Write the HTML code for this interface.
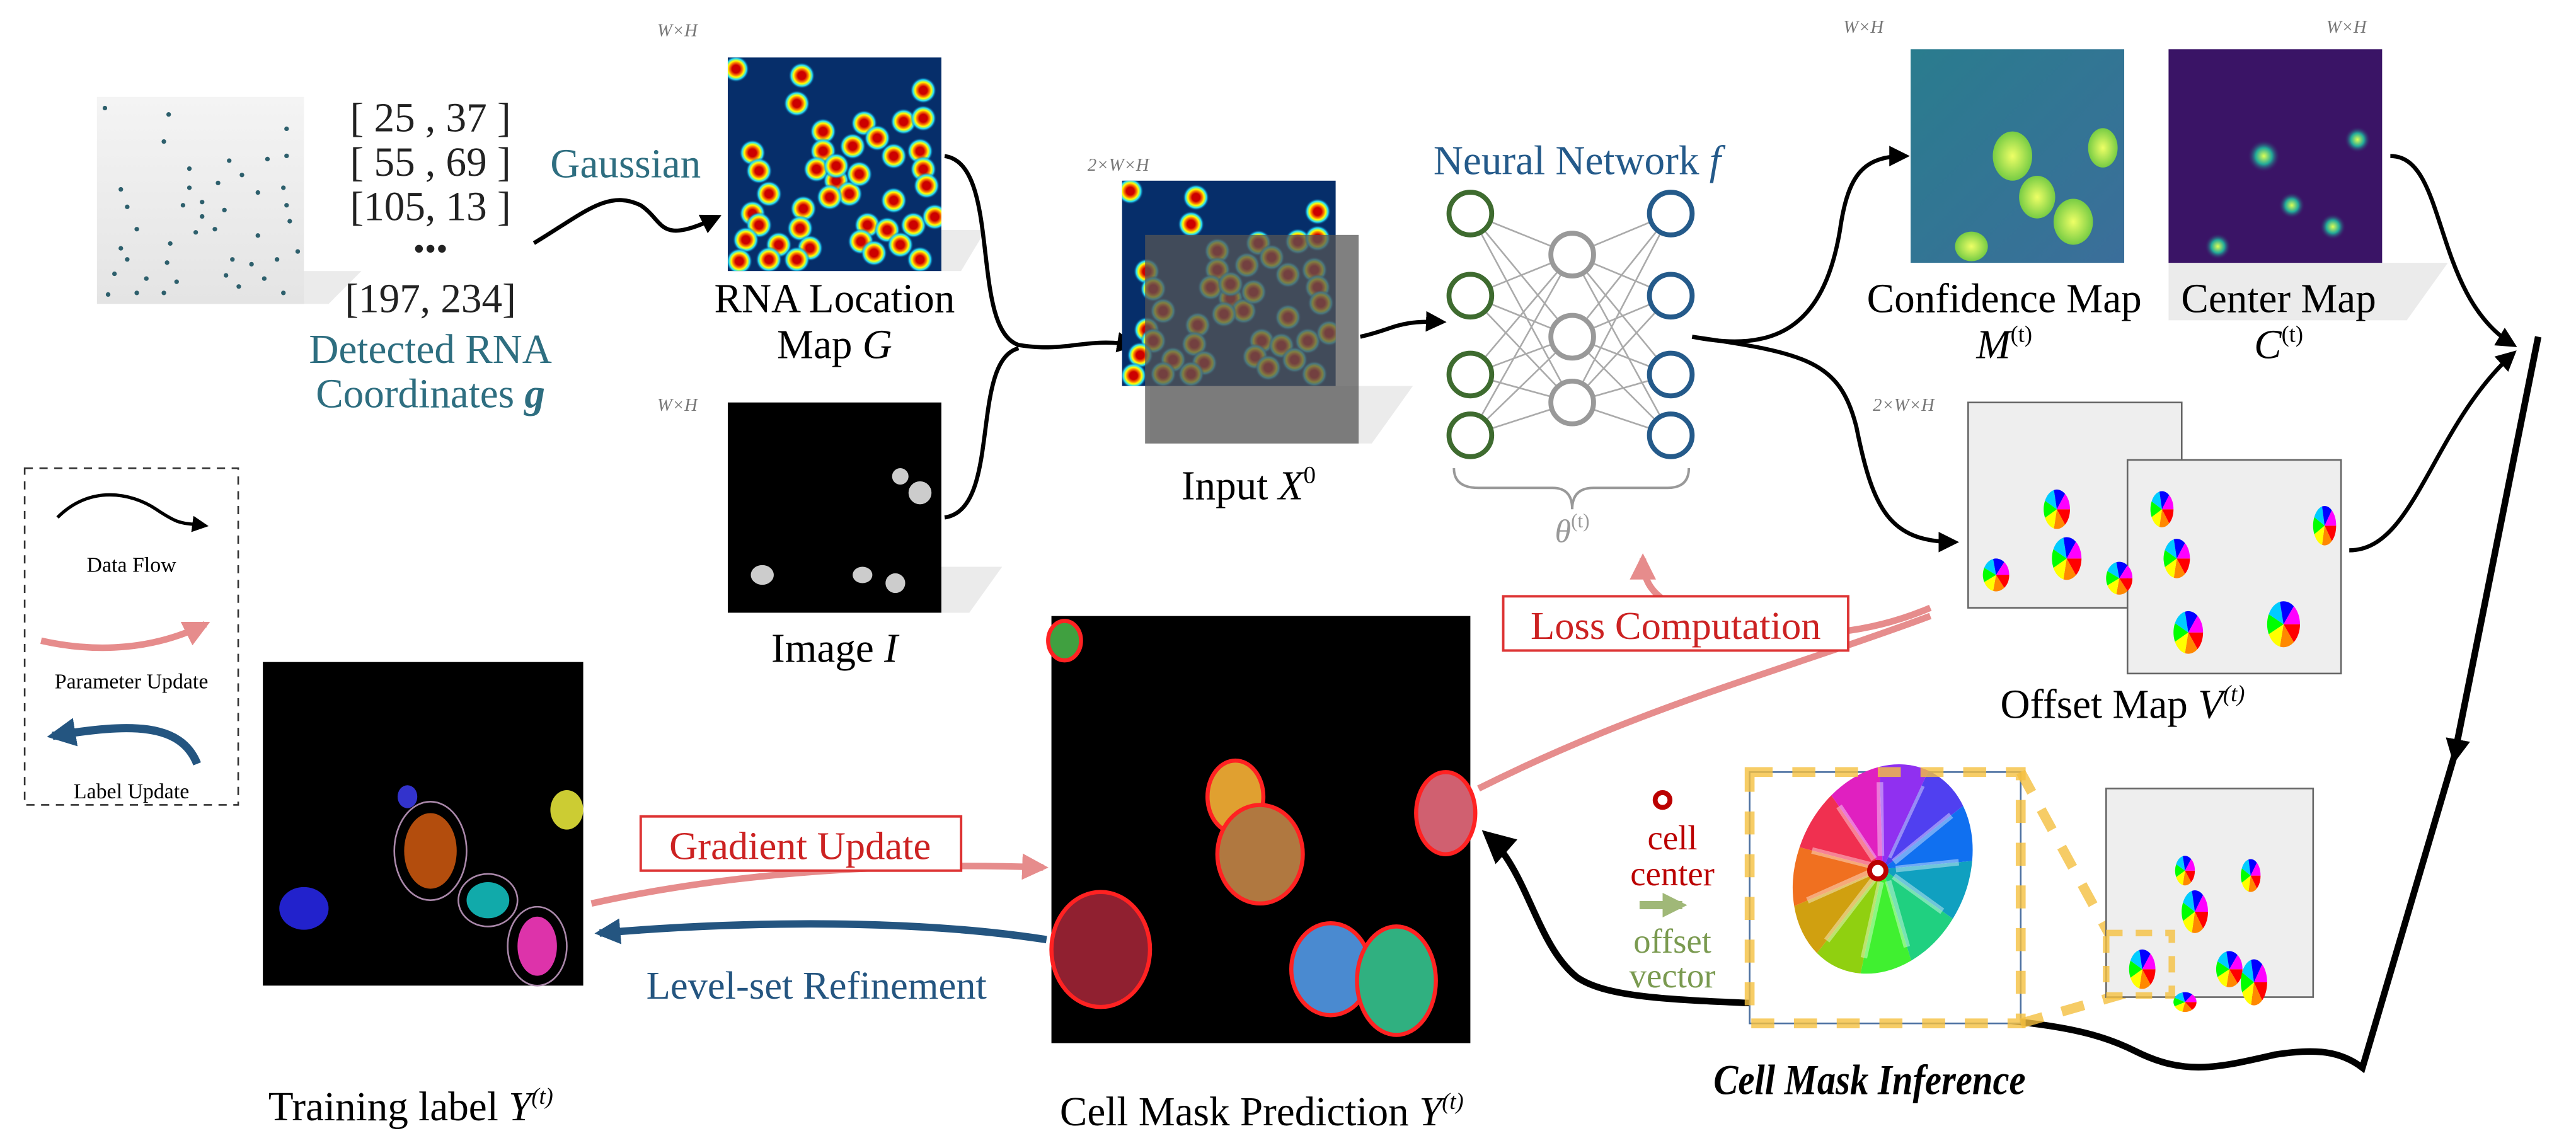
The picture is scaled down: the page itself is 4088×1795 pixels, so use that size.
<!DOCTYPE html>
<html><head><meta charset="utf-8"><style>
html,body{margin:0;padding:0;background:#fff}
svg{display:block}
text{font-family:"Liberation Serif",serif}
</style></head><body>
<svg id="fig" width="4088" height="1795" viewBox="0 0 1568 688.5" xmlns="http://www.w3.org/2000/svg">
<defs>
<linearGradient id="gpanel" x1="0" y1="0" x2="0" y2="1"><stop offset="0" stop-color="#f4f4f4"/><stop offset="1" stop-color="#e4e4e4"/></linearGradient>
<linearGradient id="gconf" x1="0" y1="0" x2="1" y2="1"><stop offset="0" stop-color="#2a7c8e"/><stop offset="1" stop-color="#3b6e9a"/></linearGradient>
<radialGradient id="gblob"><stop offset="0.3" stop-color="#c00"/><stop offset="0.5" stop-color="#f80"/><stop offset="0.62" stop-color="#ff0"/><stop offset="0.8" stop-color="#2df"/><stop offset="1" stop-color="#0a3a78" stop-opacity="0"/></radialGradient>
<radialGradient id="gconfcell"><stop offset="0" stop-color="#ef6"/><stop offset="1" stop-color="#7c4"/></radialGradient>
<radialGradient id="gcenter"><stop offset="0" stop-color="#df5"/><stop offset="0.5" stop-color="#2a9"/><stop offset="1" stop-color="#3a1466" stop-opacity="0"/></radialGradient>
<clipPath id="clipG"><rect x="443" y="35" width="130" height="130"/></clipPath>
<clipPath id="clipX"><rect x="683" y="110" width="130" height="125"/></clipPath>
<marker id="ab" viewBox="0 0 10 10" refX="8" refY="5" markerWidth="5" markerHeight="5" orient="auto"><path d="M0,0L10,5L0,10z" fill="#000"/></marker>
<marker id="ar" viewBox="0 0 10 10" refX="8" refY="5" markerWidth="4" markerHeight="4" orient="auto"><path d="M0,0L10,5L0,10z" fill="#e07070"/></marker>
<marker id="ag" viewBox="0 0 10 10" refX="8" refY="5" markerWidth="3" markerHeight="3" orient="auto"><path d="M0,0L10,5L0,10z" fill="#a0b878"/></marker>
<marker id="au" viewBox="0 0 10 10" refX="8" refY="5" markerWidth="3.5" markerHeight="3.5" orient="auto"><path d="M0,0L10,5L0,10z" fill="#245580"/></marker>
</defs>

<!-- RNA scatter -->
<polygon points="85,165 220,165 200,185 85,185" fill="#ddd" opacity="0.6"/>
<rect x="59" y="59" width="126" height="126" fill="url(#gpanel)"/>
<g id="dots" fill="#2d5f6c"></g>
<g font-size="25" fill="#222" text-anchor="middle">
<text x="262" y="80">[ 25 ,  37 ]</text><text x="262" y="107">[ 55 ,  69 ]</text><text x="262" y="134">[105,  13 ]</text><text x="262" y="158" font-size="20">•••</text><text x="262" y="190">[197, 234]</text></g>
<text x="262" y="221" font-size="25" fill="#2e6e80" text-anchor="middle">Detected RNA</text>
<text x="262" y="248" font-size="25" fill="#2e6e80" text-anchor="middle">Coordinates <tspan font-weight="bold" font-style="italic">g</tspan></text>
<text x="335" y="108" font-size="25" fill="#2e6e80">Gaussian</text>
<path d="M325,148 C355,130 370,115 390,125 C405,135 400,150 437,132" stroke="#000" stroke-width="2.5" fill="none" marker-end="url(#ab)"/>

<!-- RNA map -->
<polygon points="470,140 600,140 585,165 470,165" fill="#ddd" opacity="0.6"/>
<text x="400" y="22" font-size="11" font-style="italic" fill="#777">W×H</text>
<rect x="443" y="35" width="130" height="130" fill="#062e6a"/>
<g id="blobs" clip-path="url(#clipG)"></g>
<text x="508" y="190" font-size="25" text-anchor="middle">RNA Location</text>
<text x="508" y="218" font-size="25" text-anchor="middle">Map <tspan font-style="italic">G</tspan></text>
<text x="400" y="250" font-size="11" font-style="italic" fill="#777">W×H</text>
<polygon points="470,345 610,345 590,373 470,373" fill="#ddd" opacity="0.6"/>
<rect x="443" y="245" width="130" height="128" fill="#000"/>
<g fill="#ccc"><ellipse cx="464" cy="350" rx="7" ry="6"/><ellipse cx="525" cy="350" rx="6" ry="5"/><ellipse cx="545" cy="355" rx="6" ry="6"/><ellipse cx="560" cy="300" rx="7" ry="7"/><ellipse cx="548" cy="290" rx="5" ry="5"/></g>
<text x="508" y="403" font-size="25" text-anchor="middle">Image <tspan font-style="italic">I</tspan></text>
<path d="M575,95 C610,100 590,200 620,210 C650,215 660,205 690,210" stroke="#000" stroke-width="2.5" fill="none" marker-end="url(#ab)"/>
<path d="M575,315 C610,310 590,220 620,212" stroke="#000" stroke-width="2.5" fill="none"/>

<!-- input -->
<text x="662" y="104" font-size="11" font-style="italic" fill="#777">2×W×H</text>
<polygon points="700,235 860,235 835,270 700,270" fill="#ddd" opacity="0.6"/>
<rect x="683" y="110" width="130" height="125" fill="#062e6a"/>
<g id="blobs2" clip-path="url(#clipX)"></g>
<rect x="697" y="143" width="130" height="127" fill="#555" opacity="0.75"/>
<text x="760" y="304" font-size="25" text-anchor="middle">Input <tspan font-style="italic">X</tspan><tspan font-size="15" dy="-10">0</tspan></text>
<path d="M828,205 C850,200 850,195 878,196" stroke="#000" stroke-width="2.5" fill="none" marker-end="url(#ab)"/>

<!-- NN -->
<text x="960" y="106" font-size="25" fill="#245a8a" text-anchor="middle">Neural Network <tspan font-style="italic">f</tspan></text>
<g id="nn"></g>
<path d="M885,285 Q885,297 900,297 L945,297 Q957,297 957,310 Q957,297 970,297 L1015,297 Q1028,297 1028,285" stroke="#999" stroke-width="1.5" fill="none"/>
<text x="957" y="330" font-size="20" fill="#999" text-anchor="middle" font-style="italic">θ<tspan font-size="12" dy="-9" font-style="normal">(t)</tspan></text>
<path d="M1030,205 C1080,215 1110,200 1120,140 C1125,105 1135,95 1160,95" stroke="#000" stroke-width="2.5" fill="none" marker-end="url(#ab)"/>
<path d="M1030,205 C1100,215 1120,220 1130,260 C1140,310 1150,330 1190,330" stroke="#000" stroke-width="2.5" fill="none" marker-end="url(#ab)"/>

<!-- confidence / center -->
<text x="1122" y="20" font-size="11" font-style="italic" fill="#777">W×H</text>
<polygon points="1320,160 1490,160 1465,195 1320,195" fill="#ddd" opacity="0.6"/>
<rect x="1163" y="30" width="130" height="130" fill="url(#gconf)"/>
<g fill="url(#gconfcell)"><ellipse cx="1225" cy="95" rx="12" ry="15"/><ellipse cx="1240" cy="120" rx="11" ry="13"/><ellipse cx="1280" cy="90" rx="9" ry="12"/><ellipse cx="1262" cy="135" rx="12" ry="14"/><ellipse cx="1200" cy="150" rx="10" ry="9"/></g>
<text x="1416" y="20" font-size="11" font-style="italic" fill="#777">W×H</text>
<rect x="1320" y="30" width="130" height="130" fill="#3a1466"/>
<g fill="url(#gcenter)"><circle cx="1378" cy="95" r="10"/><circle cx="1395" cy="125" r="8"/><circle cx="1435" cy="85" r="8"/><circle cx="1420" cy="138" r="8"/><circle cx="1350" cy="150" r="8"/></g>
<text x="1220" y="190" font-size="25" text-anchor="middle">Confidence Map</text>
<text x="1220" y="218" font-size="25" text-anchor="middle" font-style="italic">M<tspan font-size="14" dy="-10" font-style="normal">(t)</tspan></text>
<text x="1387" y="190" font-size="25" text-anchor="middle">Center Map</text>
<text x="1387" y="218" font-size="25" text-anchor="middle" font-style="italic">C<tspan font-size="14" dy="-10" font-style="normal">(t)</tspan></text>

<!-- offset -->
<text x="1140" y="250" font-size="11" font-style="italic" fill="#777">2×W×H</text>
<rect x="1198" y="245" width="130" height="125" fill="#eee" stroke="#666"/>
<rect x="1295" y="280" width="130" height="130" fill="#eee" stroke="#666"/>
<g id="rainbow"></g>
<text x="1292" y="437" font-size="25" text-anchor="middle">Offset Map <tspan font-style="italic">V</tspan><tspan font-size="14" dy="-10" font-style="italic">(t)</tspan></text>
<path d="M1455,95 C1490,95 1480,180 1530,210" stroke="#000" stroke-width="2.5" fill="none" marker-end="url(#ab)"/>
<path d="M1430,335 C1470,335 1480,260 1530,215" stroke="#000" stroke-width="2.5" fill="none" marker-end="url(#ab)"/>
<path d="M1545,205 L1494,460 L1438,650 C1425,640 1410,638 1385,642 C1350,650 1330,655 1300,640 C1270,625 1240,622 1150,615 C1050,608 985,612 960,595 C935,575 930,530 905,508" stroke="#000" stroke-width="4" fill="none" marker-end="url(#ab)"/>
<path d="M1498,440 L1494,462" stroke="#000" stroke-width="3" marker-end="url(#ab)"/>

<!-- loss -->
<path d="M1175,370 C1140,385 1100,390 1060,382 C1020,372 1000,365 1000,340" stroke="#e07070" stroke-width="4" fill="none" opacity="0.8" marker-end="url(#ar)"/>
<path d="M900,480 C1000,430 1080,410 1175,375" stroke="#e07070" stroke-width="4" fill="none" opacity="0.8"/>
<rect x="915" y="363" width="210" height="33" fill="#fff" stroke="#d33" stroke-width="1.5"/>
<text x="1020" y="389" font-size="24" fill="#c22" text-anchor="middle">Loss Computation</text>

<!-- cell mask -->
<rect x="640" y="375" width="255" height="260" fill="#000"/>
<g stroke="#f22" stroke-width="2.5">
<ellipse cx="752" cy="485" rx="17" ry="22" fill="#e0a030"/><ellipse cx="767" cy="520" rx="26" ry="30" fill="#b07840"/><ellipse cx="880" cy="495" rx="18" ry="25" fill="#d06070"/>
<ellipse cx="670" cy="578" rx="30" ry="35" fill="#902030"/><ellipse cx="810" cy="590" rx="24" ry="28" fill="#4a8ad0"/><ellipse cx="850" cy="597" rx="24" ry="33" fill="#30b080"/><ellipse cx="648" cy="390" rx="10" ry="12" fill="#40a040"/></g>
<text x="768" y="685" font-size="25" text-anchor="middle">Cell Mask Prediction <tspan font-style="italic">Y</tspan><tspan font-size="14" dy="-10" font-style="italic">(t)</tspan></text>

<!-- training -->
<rect x="160" y="403" width="195" height="197" fill="#000"/>
<g><ellipse cx="262" cy="518" rx="16" ry="23" fill="#e06010" opacity="0.8"/><ellipse cx="185" cy="553" rx="15" ry="13" fill="#22c"/><ellipse cx="297" cy="548" rx="13" ry="11" fill="#1aa"/><ellipse cx="327" cy="576" rx="12" ry="18" fill="#d3a"/><ellipse cx="345" cy="493" rx="10" ry="12" fill="#cc3"/><ellipse cx="248" cy="485" rx="6" ry="7" fill="#33c"/></g>
<g fill="none" stroke="#a8a" stroke-width="1"><ellipse cx="262" cy="518" rx="22" ry="30"/><ellipse cx="297" cy="548" rx="18" ry="16"/><ellipse cx="327" cy="576" rx="18" ry="24"/></g>
<text x="250" y="682" font-size="25" text-anchor="middle">Training label <tspan font-style="italic">Y</tspan><tspan font-size="14" dy="-10" font-style="italic">(t)</tspan></text>

<path d="M360,550 C450,530 550,525 635,528" stroke="#e07070" stroke-width="4" fill="none" opacity="0.8" marker-end="url(#ar)"/>
<rect x="390" y="497" width="195" height="33" fill="#fff" stroke="#d33" stroke-width="1.5"/>
<text x="487" y="523" font-size="24" fill="#c22" text-anchor="middle">Gradient Update</text>
<path d="M637,572 C560,560 460,560 365,568" stroke="#245580" stroke-width="4.5" fill="none" marker-end="url(#au)"/>
<text x="497" y="608" font-size="24" fill="#245580" text-anchor="middle">Level-set Refinement</text>

<!-- legend -->
<rect x="15" y="285" width="130" height="205" fill="#fff" stroke="#333" stroke-dasharray="5,4"/>
<path d="M35,315 C55,295 80,300 95,310 C110,320 110,318 125,320" stroke="#000" stroke-width="2" fill="none" marker-end="url(#ab)"/>
<text x="80" y="348" font-size="13" text-anchor="middle">Data Flow</text>
<path d="M25,390 C60,398 95,395 125,380" stroke="#e07070" stroke-width="4" fill="none" opacity="0.8" marker-end="url(#ar)"/>
<text x="80" y="419" font-size="13" text-anchor="middle">Parameter Update</text>
<path d="M120,465 C110,440 80,440 32,448" stroke="#245580" stroke-width="5" fill="none" marker-end="url(#au)"/>
<text x="80" y="486" font-size="13" text-anchor="middle">Label Update</text>

<!-- zoom inset -->
<circle cx="1012" cy="487" r="4.5" fill="#fff" stroke="#b00" stroke-width="3"/>
<g font-size="21" text-anchor="middle">
<text x="1018" y="517" fill="#b00">cell</text>
<text x="1018" y="539" fill="#b00">center</text>
<text x="1018" y="580" fill="#7a9a50">offset</text>
<text x="1018" y="601" fill="#7a9a50">vector</text></g>
<path d="M998,551 h26" stroke="#a0b878" stroke-width="5" marker-end="url(#ag)"/>
<rect x="1065" y="470" width="165" height="153" fill="#fff" stroke="#4a6fa0"/>
<g id="wheel" transform="rotate(25 1146 529)"></g>
<circle cx="1143" cy="530" r="5" fill="#fff" stroke="#b00" stroke-width="3"/>
<rect x="1065" y="470" width="165" height="153" fill="none" stroke="#f5c040" stroke-width="6" stroke-dasharray="14,12" opacity="0.8"/>
<path d="M1230,470 L1290,580 M1230,623 L1310,600" stroke="#f5c040" stroke-width="6" stroke-dasharray="14,12" opacity="0.8"/>
<rect x="1282" y="480" width="126" height="127" fill="#eee" stroke="#666"/>
<rect x="1282" y="568" width="40" height="38" fill="none" stroke="#f5c040" stroke-width="4" stroke-dasharray="10,8" opacity="0.8"/>
<g id="rainbow2"></g>
<text x="1138" y="666" font-size="26" font-weight="bold" font-style="italic" text-anchor="middle" textLength="190" lengthAdjust="spacingAndGlyphs">Cell Mask Inference</text>
</svg>
<script>
const blobX=[448,488,562,485,526,550,562,501,534,519,458,501,544,560,562,462,497,509,517,505,468,544,564,489,458,462,487,454,474,493,528,540,556,548,524,532,560,468,485,450,569,523,509];
const blobY=[42,46,55,63,75,74,72,80,84,89,93,92,95,92,103,104,103,110,118,120,118,122,113,127,130,137,139,146,149,151,137,140,137,149,147,154,158,158,158,159,132,106,101];
const ns="http://www.w3.org/2000/svg";
function mk(tag,attrs,parent){const e=document.createElementNS(ns,tag);for(const k in attrs)e.setAttribute(k,attrs[k]);parent.appendChild(e);return e;}
const dots=document.getElementById('dots');
blobX.forEach((x,i)=>{const c=mk('circle',{cx:59+(x-443)*0.97,cy:59+(blobY[i]-35)*0.97,r:1.4},dots);

});
const bl=document.getElementById('blobs');
blobX.forEach((x,i)=>{const c=mk('circle',{cx:x,cy:blobY[i],r:8,fill:'url(#gblob)'},bl);

});
const bl2=document.getElementById('blobs2');
blobX.forEach((x,i)=>{const c=mk('circle',{cx:x+240,cy:blobY[i]*0.96+76,r:8,fill:'url(#gblob)'},bl2);

});
const nn=document.getElementById('nn');
const layers=[[895,[130,180,228,265],'#3e6b2f'],[957,[155,205,245],'#999'],[1017,[130,180,228,265],'#245a8a']];
for(let l=0;l<2;l++)layers[l][1].forEach(a=>layers[l+1][1].forEach(b=>mk('line',{x1:layers[l][0],y1:a,x2:layers[l+1][0],y2:b,stroke:'#aaa','stroke-width':1},nn)));
layers.forEach(L=>L[1].forEach(y=>{const c=mk('circle',{cx:L[0],cy:y,r:13,fill:'#fff',stroke:L[2],'stroke-width':3},nn);

}));
function rb(g,cx,cy,rx,ry){const cols=['#f00','#f80','#ff0','#0f0','#0cf','#00f','#f0f'];cols.forEach((c,i)=>{const a1=i/7*2*Math.PI,a2=(i+1)/7*2*Math.PI;mk('path',{d:`M${cx},${cy}L${cx+rx*Math.cos(a1)},${cy+ry*Math.sin(a1)}A${rx},${ry} 0 0 1 ${cx+rx*Math.cos(a2)},${cy+ry*Math.sin(a2)}Z`,fill:c},g);});}
const R=document.getElementById('rainbow');
[[1252,310,8,12],[1258,340,9,13],[1290,352,8,10],[1215,350,8,10],[1316,310,7,11],[1325,340,8,12],[1332,385,9,13],[1390,380,10,14],[1415,320,7,12]].forEach(a=>rb(R,...a));
const R2=document.getElementById('rainbow2');
[[1330,530,6,9],[1336,555,8,13],[1370,533,6,10],[1304,590,8,12],[1357,590,8,11],[1372,598,8,14],[1330,610,7,6]].forEach(a=>rb(R2,...a));
const W=document.getElementById('wheel');
const wc=['#5040f0','#1070f0','#10a0c0','#20d080','#40f030','#90d010','#d0a010','#f07020','#f03050','#e020c0','#9030f0'];
wc.forEach((c,i)=>{const a1=i/11*2*Math.PI-Math.PI/2,a2=(i+1)/11*2*Math.PI-Math.PI/2,cx=1146,cy=529,rx=52,ry=66;mk('path',{d:`M${cx},${cy}L${cx+rx*Math.cos(a1)},${cy+ry*Math.sin(a1)}A${rx},${ry} 0 0 1 ${cx+rx*Math.cos(a2)},${cy+ry*Math.sin(a2)}Z`,fill:c},W);
mk('line',{x1:cx+rx*0.85*Math.cos(a1),y1:cy+ry*0.85*Math.sin(a1),x2:cx+8*Math.cos(a1),y2:cy+8*Math.sin(a1),stroke:'#fff','stroke-opacity':0.4,'stroke-width':4},W);});
</script>
</body></html>
